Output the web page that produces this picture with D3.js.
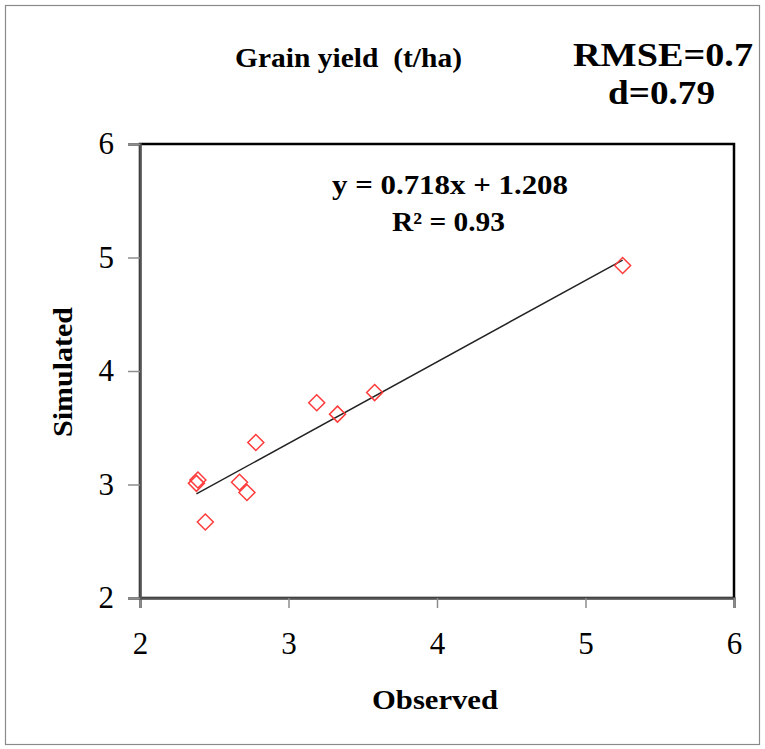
<!DOCTYPE html>
<html><head><meta charset="utf-8">
<script src="https://cdn.jsdelivr.net/npm/d3@7"></script>
<style>body{margin:0;background:#fff}svg{display:block}</style>
</head><body>
<script>
const observed  = [5.25, 3.58, 3.33, 3.19, 2.78, 2.38, 2.39, 2.67, 2.72, 2.44];
const simulated = [4.93, 3.81, 3.62, 3.72, 3.37, 3.01, 3.04, 3.02, 2.93, 2.67];
const xTicks = [2, 3, 4, 5, 6];
const yTicks = [2, 3, 4, 5, 6];
const slope = 0.718, intercept = 1.208;
const titleText = "Grain yield\u00a0 (t/ha)";
const statsText = ["RMSE=0.7", "d=0.79"];
const eqText = ["y = 0.718x + 1.208", "R² = 0.93"];

const W = 765, H = 749;
const svg = d3.select("body").append("svg").attr("width", W).attr("height", H);
const font = "'Liberation Serif','Times New Roman',serif";

svg.append("rect").attr("x", 5.5).attr("y", 5.5).attr("width", 754).attr("height", 739)
  .attr("fill", "#fff").attr("stroke", "#8a8a8a").attr("stroke-width", 1.2);

const x = d3.scaleLinear().domain([2, 6]).range([140, 734]);
const y = d3.scaleLinear().domain([2, 6]).range([598, 144]);

// plot frame
svg.append("rect").attr("x", x(2)).attr("y", y(6)).attr("width", x(6) - x(2)).attr("height", y(2) - y(6))
  .attr("fill", "none").attr("stroke", "#000").attr("stroke-width", 2.5);

const xAxis = svg.append("g").attr("transform", `translate(0,${y(2)})`)
  .call(d3.axisBottom(x).tickValues(xTicks).tickSize(10).tickPadding(24).tickFormat(d3.format("d")));
const yAxis = svg.append("g").attr("transform", `translate(${x(2)},0)`)
  .call(d3.axisLeft(y).tickValues(yTicks).tickSize(12).tickPadding(14).tickFormat(d3.format("d")));
[xAxis, yAxis].forEach(g => {
  g.select(".domain").attr("stroke", "#555").attr("stroke-width", 2.5);
  g.selectAll(".tick line").attr("stroke", "#8c8c8c").attr("stroke-width", 1.5);
  g.selectAll(".tick text").attr("font-family", font).attr("font-size", 31).attr("fill", "#000");
});

// regression line
const x0 = d3.min(observed), x1 = d3.max(observed);
svg.append("line").attr("x1", x(x0)).attr("y1", y(slope * x0 + intercept))
  .attr("x2", x(x1)).attr("y2", y(slope * x1 + intercept))
  .attr("stroke", "#222").attr("stroke-width", 1.5);

// diamonds
const r = 8;
svg.append("g").selectAll("path").data(observed.map((o, i) => [o, simulated[i]])).join("path")
  .attr("d", d => { const cx = x(d[0]), cy = y(d[1]);
    return `M${cx},${cy - r}L${cx + r},${cy}L${cx},${cy + r}L${cx - r},${cy}Z`; })
  .attr("fill", "none").attr("stroke", "#ff3b3b").attr("stroke-width", 1.5);

// texts
function label(txt, cx, by, size, len, rot) {
  const t = svg.append("text").attr("text-anchor", "middle")
    .attr("font-family", font).attr("font-weight", "bold").attr("font-size", size)
    .attr("textLength", len).attr("lengthAdjust", "spacingAndGlyphs").text(txt);
  if (rot) t.attr("transform", `translate(${cx},${by}) rotate(-90)`);
  else t.attr("x", cx).attr("y", by);
}
label(titleText, 348.5, 67, 27, 227);
label(statsText[0], 663, 66, 34, 180);
label(statsText[1], 661.5, 104, 34, 107);
label(eqText[0], 450, 194, 27, 236);
label(eqText[1], 448.5, 231, 27, 113);
label("Observed", 435, 709, 28, 126);
label("Simulated", 72, 372, 28, 130, true);
</script>
</body></html>
